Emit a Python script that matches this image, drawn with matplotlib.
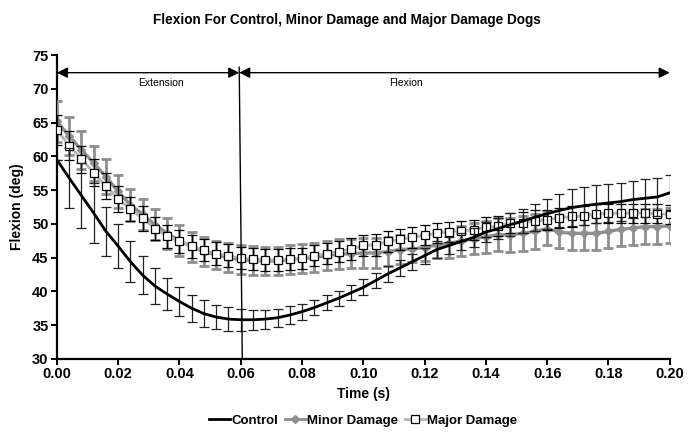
import numpy as np
import matplotlib
matplotlib.use("Agg")
import matplotlib.pyplot as plt
from matplotlib.lines import Line2D

plt.rcParams['font.family'] = ['Liberation Sans', 'DejaVu Sans']

time = [round(0.004 * i, 3) for i in range(51)]

control = [59.5, 56.8, 54.2, 51.6, 48.9, 46.7, 44.4, 42.4, 40.8, 39.6,
           38.5, 37.5, 36.7, 36.2, 35.9, 35.8, 35.8, 35.9, 36.1, 36.5,
           37.0, 37.6, 38.3, 39.0, 39.8, 40.6, 41.6, 42.6, 43.5, 44.4,
           45.3, 46.2, 46.8, 47.4, 48.0, 48.8, 49.3, 49.9, 50.4, 51.0,
           51.5, 52.0, 52.4, 52.7, 52.9, 53.1, 53.3, 53.6, 53.8, 54.0, 54.6]
control_err = [0.0, 4.5, 4.8, 4.4, 3.6, 3.3, 3.0, 2.8, 2.6, 2.4,
               2.1, 2.0, 2.0, 1.8, 1.75, 1.6, 1.5, 1.4, 1.35, 1.3,
               1.2, 1.1, 1.1, 1.1, 1.1, 1.2, 1.1, 1.2, 1.2, 1.2,
               1.2, 1.2, 1.2, 1.3, 1.4, 1.5, 1.6, 1.7, 1.8, 2.0,
               2.2, 2.5, 2.7, 2.8, 2.8, 2.8, 2.8, 2.8, 2.8, 2.8, 2.7]

minor = [65.2, 63.0, 61.0, 59.0, 57.0, 54.8, 52.8, 51.4, 49.9, 48.6,
         47.5, 46.6, 45.9, 45.4, 45.0, 44.7, 44.6, 44.5, 44.5, 44.7,
         44.9, 45.0, 45.3, 45.5, 45.6, 45.7, 45.7, 45.9, 46.2, 46.3,
         46.5, 46.9, 47.1, 47.5, 47.8, 48.1, 48.4, 48.4, 48.6, 48.9,
         49.3, 48.8, 48.6, 48.6, 48.6, 48.9, 49.2, 49.4, 49.6, 49.6, 49.7]
minor_err = [3.0, 2.8, 2.8, 2.6, 2.6, 2.5, 2.3, 2.3, 2.3, 2.3,
             2.3, 2.2, 2.1, 2.1, 2.1, 2.1, 2.1, 2.1, 2.1, 2.1,
             2.1, 2.1, 2.1, 2.2, 2.2, 2.2, 2.2, 2.2, 2.1, 2.0,
             2.0, 2.0, 2.1, 2.2, 2.3, 2.4, 2.4, 2.5, 2.6, 2.6,
             2.4, 2.4, 2.4, 2.5, 2.5, 2.5, 2.5, 2.5, 2.6, 2.6, 2.6]

major = [63.9, 61.6, 59.6, 57.6, 55.6, 53.7, 52.2, 50.8, 49.3, 48.2,
         47.4, 46.7, 46.1, 45.6, 45.3, 44.9, 44.8, 44.7, 44.7, 44.8,
         44.9, 45.3, 45.6, 45.9, 46.3, 46.8, 46.9, 47.4, 47.7, 48.0,
         48.3, 48.6, 48.85, 49.0, 49.1, 49.5, 49.7, 50.1, 50.2, 50.5,
         50.6, 50.9, 51.1, 51.2, 51.5, 51.6, 51.6, 51.6, 51.6, 51.5, 51.4]
major_err = [2.2, 2.1, 2.0, 2.0, 1.9, 1.9, 1.8, 1.8, 1.7, 1.7,
             1.7, 1.7, 1.65, 1.65, 1.65, 1.65, 1.65, 1.65, 1.65, 1.65,
             1.6, 1.6, 1.6, 1.6, 1.6, 1.6, 1.6, 1.5, 1.5, 1.5,
             1.5, 1.5, 1.5, 1.5, 1.5, 1.5, 1.5, 1.5, 1.5, 1.5,
             1.5, 1.5, 1.5, 1.4, 1.4, 1.4, 1.4, 1.4, 1.4, 1.4, 1.4]

labels = ["Control", "Minor Damage", "Major Damage"]
phase_labels = ["Extension", "Flexion"]
phase_bounds = [0.0, 0.0595, 0.2]
phase_label_x = [0.034, 0.1138]

GREY = "#8e8e8e"

fig = plt.figure(figsize=(6.94, 4.34), dpi=100)
ax = fig.add_axes([0.082, 0.173, 0.883, 0.700])

# Minor damage
ax.errorbar(time, minor, yerr=minor_err, color=GREY, lw=2.4, marker='D',
            ms=4, mfc=GREY, mec=GREY, ecolor=GREY, elinewidth=2.0,
            capsize=3.5, capthick=2.0, zorder=3)
# Major damage
ax.errorbar(time, major, yerr=major_err, fmt='none', ecolor='black',
            elinewidth=0.9, capsize=3.5, capthick=0.9, zorder=4)
ax.plot(time, major, color="#b5b5b5", lw=2.0, zorder=4)
ax.plot(time, major, ls='none', marker='s', ms=6, mfc='white',
        mec='black', mew=0.9, zorder=5)
# Control
ax.errorbar(time, control, yerr=control_err, fmt='none', ecolor='#222222',
            elinewidth=0.9, capsize=3.5, capthick=0.9, zorder=6)
ax.plot(time, control, color='black', lw=2.0, zorder=7)

ax.set_xlim(0, 0.2)
ax.set_ylim(30, 75)
ax.set_xticks(np.arange(0, 0.2001, 0.02))
ax.set_xticklabels([f"{v:.2f}" for v in np.arange(0, 0.2001, 0.02)])
ax.set_yticks(range(30, 76, 5))
for s in ['top', 'right']:
    ax.spines[s].set_visible(False)
for s in ['left', 'bottom']:
    ax.spines[s].set_linewidth(1.6)
ax.tick_params(direction='out', length=4, width=1.4, labelsize=10.5, pad=2)
for lab in ax.get_xticklabels() + ax.get_yticklabels():
    lab.set_fontweight('bold')

ax.set_xlabel("Time (s)", fontsize=10, fontweight='bold', labelpad=4)
ax.set_ylabel("Flexion (deg)", fontsize=10, fontweight='bold', labelpad=6)
fig.text(0.5, 0.955, "Flexion For Control, Minor Damage and Major Damage Dogs",
         ha='center', va='center', fontsize=9.8, fontweight='bold')

# phase arrows
arrow_y = 72.4
for i, name in enumerate(phase_labels):
    x0, x1 = phase_bounds[i], phase_bounds[i + 1]
    ax.annotate("", xy=(x0, arrow_y), xytext=(x1, arrow_y),
                arrowprops=dict(arrowstyle='<|-|>', color='black', lw=1.0,
                                mutation_scale=16, shrinkA=0, shrinkB=0),
                zorder=8)
    ax.text(phase_label_x[i], 70.9, name, ha='center', va='center',
            fontsize=7.5)
ax.plot([phase_bounds[1], 0.0605], [73.2, 30], color='black', lw=1.0,
        zorder=8, clip_on=False)

handles = [
    Line2D([], [], color='black', lw=2.0),
    Line2D([], [], color=GREY, lw=2.0, marker='D', ms=4, mfc=GREY, mec=GREY),
    Line2D([], [], color='#b5b5b5', lw=2.0, marker='s', ms=6, mfc='white',
           mec='black', mew=0.9),
]
fig.legend(handles, labels, loc='center', bbox_to_anchor=(0.523, 0.03),
           ncol=3, frameon=False, handlelength=1.6, handletextpad=0.1,
           columnspacing=0.5, prop={'weight': 'bold', 'size': 9.5})

fig.savefig("out.png", dpi=100)
